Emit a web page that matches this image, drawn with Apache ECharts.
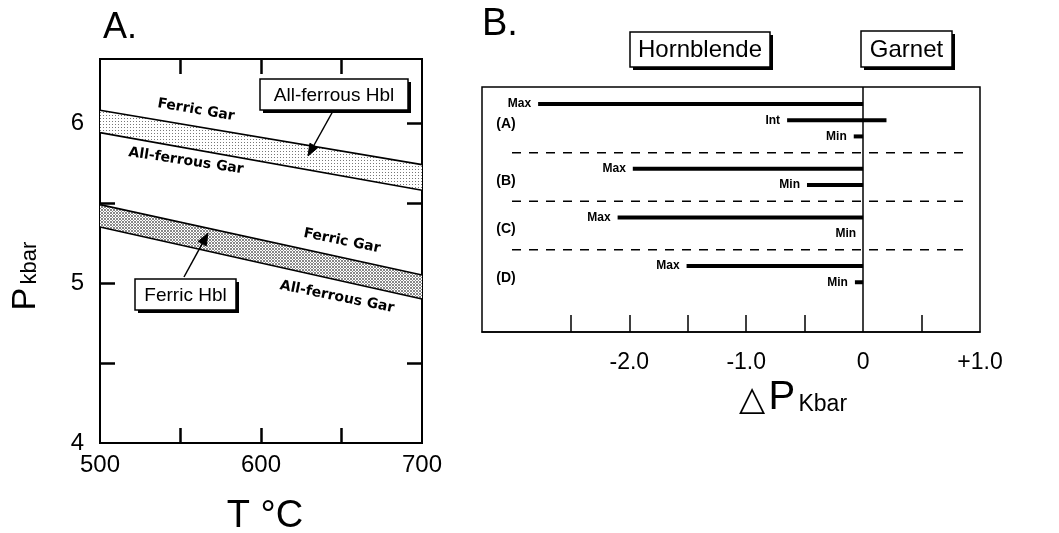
<!DOCTYPE html>
<html><head><meta charset="utf-8">
<script src="https://cdn.jsdelivr.net/npm/echarts@6/dist/echarts.min.js"></script>
<style>html,body{margin:0;padding:0;background:#fff}#c{width:1059px;height:533px}</style>
</head><body><div id="c"></div>
<script>
// ---------- Panel A data ----------
const temperatures = [500, 700];
const allFerrousHbl_FerricGar = [6.08, 5.74];
const allFerrousHbl_AllFerrousGar = [5.94, 5.58];
const ferricHbl_FerricGar = [5.49, 5.05];
const ferricHbl_AllFerrousGar = [5.35, 4.90];
const aXTicks = [550, 600, 650];
const aXLabels = [500, 600, 700];
const aYTicks = [4.5, 5, 5.5, 6];
const aYLabels = [4, 5, 6];

// ---------- Panel B data ----------
const groupNames = ['(A)', '(B)', '(C)', '(D)'];
const rowNames = [['Max', 'Int', 'Min'], ['Max', 'Min'], ['Max', 'Min'], ['Max', 'Min']];
const deltaLow = [[-2.78, -0.65, -0.08], [-1.97, -0.48], [-2.10, 0], [-1.51, -0.07]];
const deltaHigh = [[0, 0.20, 0], [0, 0], [0, 0], [0, 0]];
const bTickValues = [-2.5, -2.0, -1.5, -1.0, -0.5, 0.5];
const bLabelValues = [-2, -1, 0, 1];
const bLabelTexts = ['-2.0', '-1.0', '0', '+1.0'];

// build rows (one empty slot between groups for the dashed separator)
const barData = [], barLabels = [], sepRows = [], groupRows = [];
let r = 0;
groupNames.forEach((g, gi) => {
  const start = r;
  rowNames[gi].forEach((n, ri) => {
    barData.push([deltaLow[gi][ri], deltaHigh[gi][ri], r]);
    barLabels.push(n);
    r++;
  });
  groupRows.push([(start + r - 1) / 2, gi]);
  if (gi < groupNames.length - 1) { sepRows.push([r]); r++; }
});

function pattern(size, pts, color) {
  const c = document.createElement('canvas');
  c.width = c.height = size;
  const g = c.getContext('2d');
  g.fillStyle = '#fff'; g.fillRect(0, 0, size, size);
  g.fillStyle = color;
  pts.forEach(p => g.fillRect(p[0], p[1], 1, 1));
  return { image: c, repeat: 'repeat' };
}
const lightDots = pattern(3, [[1, 1]], '#777');
const denseDots = pattern(3, [[0, 0], [2, 0], [1, 1], [0, 2], [2, 2]], '#888');

function bandSeries(upper, lower, fill) {
  return {
    type: 'custom', xAxisIndex: 0, yAxisIndex: 0, silent: true, z: 2,
    data: [[temperatures[0], upper[0]]],
    renderItem: (params, api) => {
      const pts = [];
      temperatures.forEach((t, i) => pts.push(api.coord([t, upper[i]])));
      for (let i = temperatures.length - 1; i >= 0; i--) pts.push(api.coord([temperatures[i], lower[i]]));
      return { type: 'polygon', shape: { points: pts }, style: { fill: fill, stroke: null } };
    }
  };
}
function lineSeries(vals) {
  return {
    type: 'line', xAxisIndex: 0, yAxisIndex: 0, symbol: 'none', silent: true, z: 3,
    data: temperatures.map((t, i) => [t, vals[i]]),
    lineStyle: { color: '#000', width: 1.6 }
  };
}

const FONT = '"Liberation Sans", Arial, Helvetica, sans-serif';

function boxGroup(x, y, w, h, text, size) {
  return {
    type: 'group', x: x, y: y, z: 20, children: [
      { type: 'rect', z: 20, shape: { x: 3, y: 3, width: w, height: h }, style: { fill: '#000' } },
      { type: 'rect', z: 21, shape: { x: 0, y: 0, width: w, height: h }, style: { fill: '#fff', stroke: '#000', lineWidth: 1.5 } },
      { type: 'text', z: 22, x: w / 2, y: h / 2 + 1, style: { text: text, align: 'center', verticalAlign: 'middle', font: size + 'px ' + FONT, fill: '#000' } }
    ]
  };
}
function arrow(x1, y1, x2, y2) {
  const a = Math.atan2(y2 - y1, x2 - x1), L = 12, W = 4.5;
  const bx = x2 - L * Math.cos(a), by = y2 - L * Math.sin(a);
  const p1 = [bx + W * Math.sin(a), by - W * Math.cos(a)];
  const p2 = [bx - W * Math.sin(a), by + W * Math.cos(a)];
  return {
    type: 'group', z: 30, children: [
      { type: 'line', z: 30, shape: { x1: x1, y1: y1, x2: bx, y2: by }, style: { stroke: '#000', lineWidth: 1.5 } },
      { type: 'polygon', z: 31, shape: { points: [[x2, y2], p1, p2] }, style: { fill: '#000', stroke: '#000', lineWidth: 1 } }
    ]
  };
}
function rotText(x, y, text, rot) {
  return { type: 'text', x: x, y: y, rotation: rot, z: 10,
    style: { text: text, align: 'center', verticalAlign: 'middle', font: 'bold 14px "DejaVu Sans", sans-serif', fill: '#000' } };
}

const chart = echarts.init(document.getElementById('c'), null, { renderer: 'canvas' });
const axisA = { onZero: false, lineStyle: { color: '#000', width: 2 } };
const tickA = { inside: true, length: 15, lineStyle: { color: '#000', width: 2.5 } };

chart.setOption({
  animation: false,
  backgroundColor: '#fff',
  grid: [
    { left: 100, top: 59, width: 322, height: 384, show: true, borderColor: '#000', borderWidth: 2, backgroundColor: 'transparent' },
    { left: 482, top: 87, width: 498, height: 245, show: true, borderColor: '#000', borderWidth: 1.5, backgroundColor: 'transparent' }
  ],
  xAxis: [
    { type: 'value', gridIndex: 0, min: 500, max: 700, position: 'bottom', splitLine: { show: false },
      axisLine: axisA, axisTick: Object.assign({ customValues: aXTicks }, tickA),
      axisLabel: { customValues: aXLabels, color: '#000', fontSize: 24, fontFamily: FONT, margin: 10 } },
    { type: 'value', gridIndex: 0, min: 500, max: 700, position: 'top', splitLine: { show: false },
      axisLine: axisA, axisTick: Object.assign({ customValues: aXTicks }, tickA), axisLabel: { show: false } },
    { type: 'value', gridIndex: 1, min: -3.26, max: 1.0, position: 'bottom', splitLine: { show: false },
      axisLine: { onZero: false, lineStyle: { color: '#000', width: 1.5 } },
      axisTick: { customValues: bTickValues, inside: true, length: 17, lineStyle: { color: '#000', width: 1.5 } },
      axisLabel: { customValues: bLabelValues, color: '#000', fontSize: 23, fontFamily: FONT, margin: 19,
        formatter: v => bLabelTexts[bLabelValues.indexOf(Math.round(v))] } }
  ],
  yAxis: [
    { type: 'value', gridIndex: 0, min: 4, max: 6.4, position: 'left', splitLine: { show: false },
      axisLine: axisA, axisTick: Object.assign({ customValues: aYTicks }, tickA),
      axisLabel: { customValues: aYLabels, color: '#000', fontSize: 24, fontFamily: FONT, margin: 16 } },
    { type: 'value', gridIndex: 0, min: 4, max: 6.4, position: 'right', splitLine: { show: false },
      axisLine: axisA, axisTick: Object.assign({ customValues: aYTicks }, tickA), axisLabel: { show: false } },
    { type: 'value', gridIndex: 1, min: -1.05, max: 14.07, inverse: true, show: false, axisLine: { onZero: false } }
  ],
  series: [
    bandSeries(allFerrousHbl_FerricGar, allFerrousHbl_AllFerrousGar, lightDots),
    bandSeries(ferricHbl_FerricGar, ferricHbl_AllFerrousGar, denseDots),
    lineSeries(allFerrousHbl_FerricGar),
    lineSeries(allFerrousHbl_AllFerrousGar),
    lineSeries(ferricHbl_FerricGar),
    lineSeries(ferricHbl_AllFerrousGar),
    // Panel B: dashed separators
    { type: 'custom', xAxisIndex: 2, yAxisIndex: 2, silent: true, z: 2, data: sepRows,
      renderItem: (params, api) => {
        const p = api.coord([0, api.value(0)]);
        const left = params.coordSys.x + 30, right = params.coordSys.x + params.coordSys.width - 10;
        return { type: 'line', shape: { x1: left, y1: p[1], x2: right, y2: p[1] },
          style: { stroke: '#000', lineWidth: 1.5, lineDash: [9, 8] } };
      } },
    // Panel B: group labels
    { type: 'custom', xAxisIndex: 2, yAxisIndex: 2, silent: true, z: 4, data: groupRows,
      renderItem: (params, api) => {
        const p = api.coord([0, api.value(0)]);
        return { type: 'text', x: params.coordSys.x + 24, y: p[1] + 4,
          style: { text: groupNames[api.value(1)], align: 'center', verticalAlign: 'middle', font: 'bold 14px ' + FONT, fill: '#000' } };
      } },
    // Panel B: bars
    { type: 'custom', xAxisIndex: 2, yAxisIndex: 2, silent: true, z: 5, data: barData,
      encode: { x: [0, 1], y: 2 },
      renderItem: (params, api) => {
        const lo = api.value(0), hi = api.value(1), row = api.value(2);
        const p1 = api.coord([lo, row]), p2 = api.coord([hi, row]);
        const ch = [];
        if (hi > lo) ch.push({ type: 'line', shape: { x1: p1[0], y1: p1[1], x2: p2[0], y2: p2[1] }, style: { stroke: '#000', lineWidth: 4 } });
        ch.push({ type: 'text', x: p1[0] - 7, y: p1[1], style: { text: barLabels[params.dataIndex], align: 'right', verticalAlign: 'middle', font: 'bold 12px ' + FONT, fill: '#000' } });
        return { type: 'group', children: ch };
      },
      markLine: { silent: true, symbol: 'none', label: { show: false }, data: [{ xAxis: 0 }],
        lineStyle: { color: '#000', width: 1.5, type: 'solid' } } }
  ],
  graphic: [
    { type: 'text', left: 103, top: 10, style: { text: 'A.', font: '36px ' + FONT, fill: '#000' } },
    { type: 'text', left: 482, top: 6, style: { text: 'B.', font: '38px ' + FONT, fill: '#000' } },
    { type: 'text', x: 26, y: 276, rotation: Math.PI / 2,
      style: { text: '{p|P} {k|kbar}', align: 'center', verticalAlign: 'middle',
        rich: { p: { font: '34px ' + FONT, fill: '#000', verticalAlign: 'bottom' }, k: { font: '22px ' + FONT, fill: '#000', verticalAlign: 'bottom', padding: [0, 0, 2, 0] } } } },
    { type: 'text', x: 265, y: 517, style: { text: 'T °C', align: 'center', verticalAlign: 'middle', font: '38px ' + FONT, fill: '#000' } },
    { type: 'text', x: 793, y: 398,
      style: { text: '{t|△} {p|P} {k|Kbar}', align: 'center', verticalAlign: 'middle',
        rich: { t: { font: '34px "DejaVu Sans", sans-serif', fill: '#000', verticalAlign: 'bottom' }, p: { font: '40px ' + FONT, fill: '#000', verticalAlign: 'bottom' }, k: { font: '23px ' + FONT, fill: '#000', verticalAlign: 'bottom', padding: [0, 0, 2, 0] } } } },
    boxGroup(630, 32, 140, 35, 'Hornblende', 24),
    boxGroup(861, 31, 91, 36, 'Garnet', 24),
    boxGroup(260, 79, 148, 31, 'All-ferrous Hbl', 19),
    boxGroup(135, 279, 101, 31, 'Ferric Hbl', 19),
    arrow(333, 111, 308, 156),
    arrow(184, 277, 208, 233),
    rotText(196, 110, 'Ferric Gar', -0.17),
    rotText(186, 161, 'All-ferrous Gar', -0.15),
    rotText(342, 241, 'Ferric Gar', -0.2),
    rotText(337, 297, 'All-ferrous Gar', -0.2)
  ]
});
</script></body></html>
